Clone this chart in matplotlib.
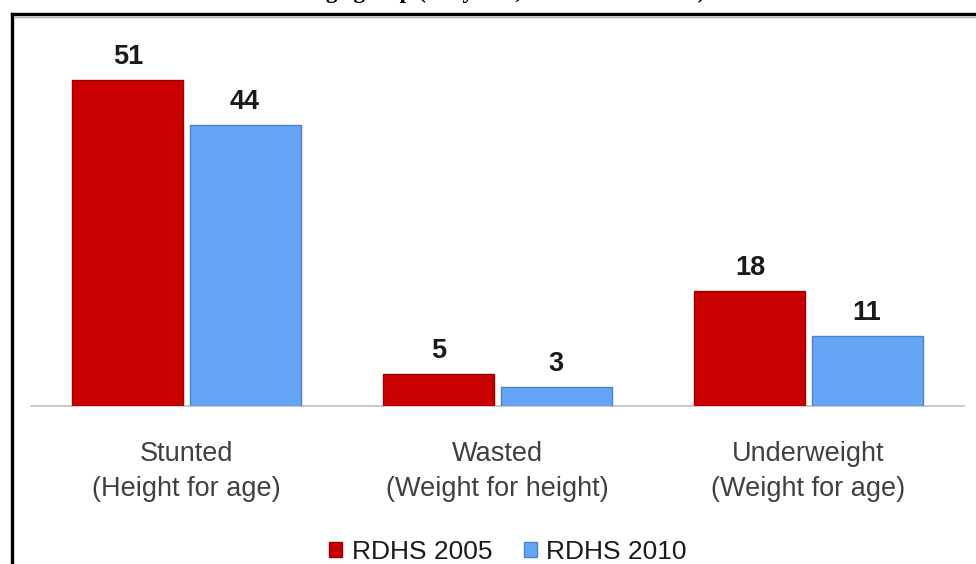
import matplotlib
matplotlib.use("Agg")
import matplotlib.pyplot as plt
from matplotlib.lines import Line2D
import numpy as np

categories = ["Stunted\n(Height for age)", "Wasted\n(Weight for height)", "Underweight\n(Weight for age)"]
series_names = ["RDHS 2005", "RDHS 2010"]
rdhs_2005 = [51, 5, 18]
rdhs_2010 = [44, 3, 11]

red = "#C90000"
red_edge = "#9E0000"
blue = "#66A5F6"
blue_edge = "#4A82CC"

plt.rcParams['font.family'] = ['Liberation Sans', 'DejaVu Sans']

fig = plt.figure(figsize=(9.76, 5.64), dpi=100)
fig.patch.set_facecolor("white")

ax = fig.add_axes([31/976, 1-406/564, 933/976, 366/564])
x = np.arange(len(categories))
w = 0.357
off = w/2 + 0.01
b1 = ax.bar(x - off, rdhs_2005, w, color=red, edgecolor=red_edge, linewidth=1.0, label=series_names[0], zorder=3)
b2 = ax.bar(x + off, rdhs_2010, w, color=blue, edgecolor=blue_edge, linewidth=1.0, label=series_names[1], zorder=3)

for bars, vals in ((b1, rdhs_2005), (b2, rdhs_2010)):
    for r, v in zip(bars, vals):
        ax.annotate(f"{v}", (r.get_x() + r.get_width()/2, r.get_height()),
                    xytext=(0, 11.5), textcoords="offset points",
                    ha="center", va="baseline", fontsize=19.5, fontweight="bold", color="#1a1a1a")

ax.set_xlim(-0.5, 2.5)
ax.set_ylim(0, 57.3)
ax.set_xticks(x)
ax.set_xticklabels(categories, fontsize=19.5, color="#404040", linespacing=1.45)
ax.tick_params(axis="x", length=0, pad=25)
ax.set_yticks([])
for s in ("left", "right", "top"):
    ax.spines[s].set_visible(False)
ax.spines["bottom"].set_color("#C0C0C0")
ax.spines["bottom"].set_linewidth(1.2)
ax.set_facecolor("none")

fig.legend(handles=[b1, b2], labels=series_names, loc="center", bbox_to_anchor=(508/976, 1-552/564),
           ncol=2, frameon=False, fontsize=19, handlelength=0.5, handleheight=0.5,
           handletextpad=0.35, columnspacing=1.2, labelcolor="#1a1a1a")

# frame lines (left and top border)
fig.add_artist(Line2D([12/976, 12/976], [0, 1-14/564], transform=fig.transFigure, color="black", linewidth=2.4))
fig.add_artist(Line2D([12/976, 1], [1-14/564, 1-14/564], transform=fig.transFigure, color="black", linewidth=2.4))
fig.add_artist(Line2D([14/976, 1], [1-16.5/564, 1-16.5/564], transform=fig.transFigure, color="#B0B0B0", linewidth=1.0))

# clipped title above the frame
fig.text(311/976, 1.0 + 2/564, "Nutrition status trends in the under five age group (0-5 years, RDHS 2005-2010)",
         ha="center", va="baseline", fontsize=16.7, fontweight="bold", family=["Liberation Serif", "DejaVu Serif"])

fig.savefig("out.png", dpi=100)
